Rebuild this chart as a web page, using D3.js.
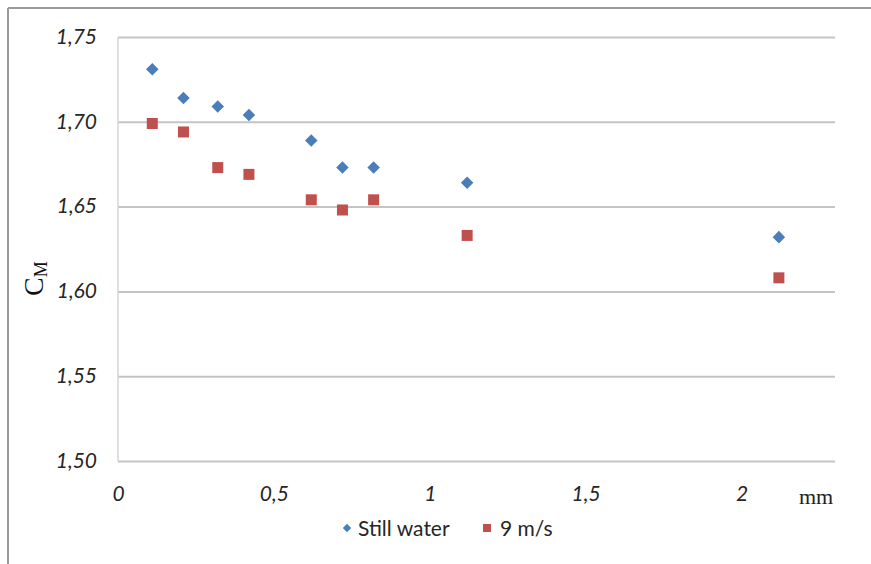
<!DOCTYPE html>
<html>
<head>
<meta charset="utf-8">
<script src="https://cdn.jsdelivr.net/npm/d3@7"></script>
<style>
  html, body { margin: 0; padding: 0; background: #fff; }
  svg { display: block; }
</style>
</head>
<body>
<svg id="chart" width="871" height="564"></svg>
<script>
// Grain size (mm) at which each coefficient was measured
const diameters = [0.11, 0.21, 0.32, 0.42, 0.62, 0.72, 0.82, 1.12, 2.12];
// Inertia coefficient C_M, still water
const stillWater = [1.731, 1.714, 1.709, 1.704, 1.689, 1.673, 1.673, 1.664, 1.632];
// Inertia coefficient C_M, 9 m/s current
const flow9 = [1.699, 1.694, 1.673, 1.669, 1.654, 1.648, 1.654, 1.633, 1.608];
const yTicks = [1.50, 1.55, 1.60, 1.65, 1.70, 1.75];
const xTicks = [0, 0.5, 1, 1.5, 2];
const seriesNames = ["Still water", "9 m/s"];

const svg = d3.select("#chart");
const plotLeft = 118, plotRight = 835, plotTop = 37, plotBottom = 461;

const x = d3.scaleLinear().domain([0, 2.3]).range([plotLeft, plotRight]);
const y = d3.scaleLinear().domain([1.50, 1.75]).range([plotBottom, plotTop]);
const fmt = v => String(v).replace(".", ",");
const fmtY = v => v.toFixed(2).replace(".", ",");

// outer frame (top and left edges)
svg.append("line").attr("x1", 8).attr("x2", 871).attr("y1", 8).attr("y2", 8)
  .attr("stroke", "#9a9a9a").attr("stroke-width", 2);
svg.append("line").attr("x1", 8).attr("x2", 8).attr("y1", 8).attr("y2", 564)
  .attr("stroke", "#9a9a9a").attr("stroke-width", 2);

// horizontal gridlines + y tick labels
const yAxis = d3.axisLeft(y).tickValues(yTicks).tickSize(-(plotRight - plotLeft)).tickFormat(fmtY).tickPadding(21);
const gy = svg.append("g").attr("transform", `translate(${plotLeft},0)`).call(yAxis);
gy.select(".domain").remove();
gy.selectAll(".tick line").attr("stroke", "#c4c4c4").attr("stroke-width", 2);
gy.selectAll(".tick text")
  .attr("font-family", "Lato, 'Open Sans', sans-serif")
  .attr("font-style", "italic").attr("font-size", 21).attr("fill", "#262626").attr("dy", "0.3em");

// vertical axis line
svg.append("line").attr("x1", plotLeft).attr("x2", plotLeft).attr("y1", plotTop).attr("y2", plotBottom)
  .attr("stroke", "#d4d4d4").attr("stroke-width", 1.5);

// x tick labels
const xAxis = d3.axisBottom(x).tickValues(xTicks).tickSize(0).tickFormat(fmt).tickPadding(25);
const gx = svg.append("g").attr("transform", `translate(0,${plotBottom})`).call(xAxis);
gx.select(".domain").remove();
gx.selectAll(".tick text")
  .attr("font-family", "Lato, 'Open Sans', sans-serif")
  .attr("font-style", "italic").attr("font-size", 21).attr("fill", "#262626");

// unit label
svg.append("text").attr("x", 799).attr("y", 504)
  .attr("font-family", "'Liberation Serif', 'DejaVu Serif', serif")
  .attr("font-size", 22).attr("fill", "#222").text("mm");

// axis title C_M
const yt = svg.append("text").attr("transform", "translate(43,296) rotate(-90)")
  .attr("font-family", "'Liberation Serif', 'DejaVu Serif', serif")
  .attr("font-size", 28).attr("fill", "#111");
yt.append("tspan").text("C");
yt.append("tspan").attr("font-size", 18).attr("dy", 4).text("M");

const blue = "#4a7ebb", red = "#c0504d";
const diamond = d3.symbol().type(d3.symbolDiamond2).size(100);

// still water markers (diamonds)
svg.append("g").selectAll("path").data(diameters)
  .join("path")
  .attr("transform", (d, i) => `translate(${x(d)},${y(stillWater[i])})`)
  .attr("d", diamond).attr("fill", blue);

// 9 m/s markers (squares)
svg.append("g").selectAll("rect").data(diameters)
  .join("rect")
  .attr("x", d => x(d) - 5.5).attr("y", (d, i) => y(flow9[i]) - 5.5)
  .attr("width", 11).attr("height", 11).attr("fill", red);

// legend
const lg = svg.append("g").attr("font-family", "Lato, 'Open Sans', sans-serif")
  .attr("font-size", 21).attr("fill", "#262626");
lg.append("path").attr("transform", "translate(347,528)")
  .attr("d", d3.symbol().type(d3.symbolDiamond2).size(45)).attr("fill", blue);
lg.append("text").attr("x", 358).attr("y", 536).text(seriesNames[0]);
lg.append("rect").attr("x", 483).attr("y", 524).attr("width", 8).attr("height", 8).attr("fill", red);
lg.append("text").attr("x", 500).attr("y", 536).text(seriesNames[1]);
</script>
</body>
</html>
